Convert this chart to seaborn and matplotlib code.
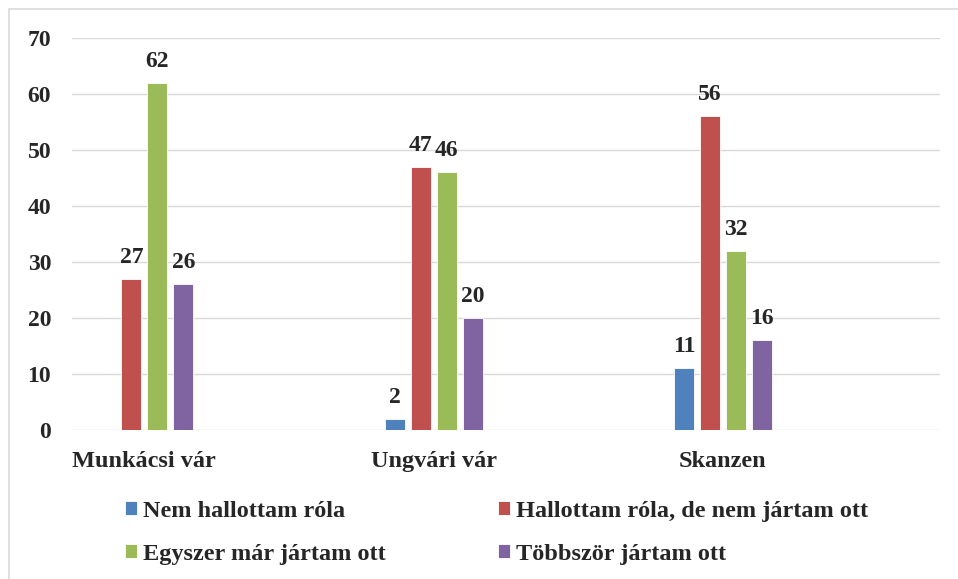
import matplotlib.pyplot as plt
import matplotlib.patches as mpatches
import pandas as pd
import seaborn as sns

# Chart data
categories = ["Munkácsi vár", "Ungvári vár", "Skanzen"]
series_names = [
  "Nem hallottam róla",
  "Hallottam róla, de nem jártam ott",
  "Egyszer már jártam ott",
  "Többször jártam ott",
]
nem_hallottam = [0, 2, 11]
hallottam = [27, 47, 56]
egyszer = [62, 46, 32]
tobbszor = [26, 20, 16]
colors = ["#4F81BD", "#C0504D", "#9BBB59", "#8064A2"]
y_ticks = [0, 10, 20, 30, 40, 50, 60, 70]


def build_frame() -> pd.DataFrame:
  rows = []
  for name, values in zip(series_names, [nem_hallottam, hallottam, egyszer, tobbszor]):
    for cat, val in zip(categories, values):
      rows.append({"Helyszín": cat, "Válasz": name, "Érték": val})
  return pd.DataFrame(rows)


def plot_chart(df: pd.DataFrame):
  sns.set_style("white")
  plt.rcParams["font.family"] = ["Liberation Serif", "DejaVu Serif"]
  plt.rcParams["font.weight"] = "bold"

  fig = plt.figure(figsize=(9.58, 5.79), dpi=100)
  ax = fig.add_axes([72 / 958, 149 / 579, 868 / 958, 392 / 579])

  sns.barplot(
      data=df,
      x="Helyszín",
      y="Érték",
      hue="Válasz",
      hue_order=series_names,
      order=categories,
      palette=colors,
      width=0.36,
      gap=0.23,
      edgecolor="white",
      linewidth=0.6,
      saturation=1,
      ax=ax,
      legend=True,
  )

  # Data labels (skip zero values like Excel)
  for container in ax.containers:
    labels = [f"{int(b.get_height())}" if b.get_height() > 0 else "" for b in container]
    ax.bar_label(container, labels=labels, padding=8, fontsize=17, fontweight="bold")

  ax.set_xlim(-0.25, 2.75)
  ax.set_ylim(0, 70)
  ax.set_yticks(y_ticks)
  ax.set_xlabel("")
  ax.set_ylabel("")
  ax.grid(True, axis="y", color="#D9D9D9", linewidth=1.0)
  ax.set_axisbelow(True)
  for spine in ax.spines.values():
    spine.set_visible(False)
  ax.tick_params(axis="y", length=0, pad=15, labelsize=17)
  ax.tick_params(axis="x", length=0, pad=15, labelsize=17.5)
  for lbl in ax.get_xticklabels() + ax.get_yticklabels():
    lbl.set_fontweight("bold")

  # Legend below the plot, filled row by row
  handles, labels = ax.get_legend_handles_labels()
  ax.get_legend().remove()
  order = [0, 2, 1, 3]
  fig.legend(
      [handles[i] for i in order],
      [labels[i] for i in order],
      loc="upper left",
      bbox_to_anchor=(125 / 958, 1 - 501 / 579),
      ncol=2,
      frameon=False,
      borderpad=0,
      borderaxespad=0,
      prop={"size": 17.5, "weight": "bold"},
      handlelength=0.5,
      handleheight=0.5,
      handletextpad=0.25,
      columnspacing=4.6,
      labelspacing=0.9,
  )

  # Chart area border
  fig.patches.append(mpatches.Rectangle(
      (9 / 958, -0.05), 1.0, 1 - 9 / 579 + 0.05,
      transform=fig.transFigure, fill=False, edgecolor="#D9D9D9", linewidth=1.2
  ))

  fig.savefig("out.png", dpi=100)
  plt.close(fig)


def main():
  df = build_frame()
  plot_chart(df)


if __name__ == "__main__":
  main()
